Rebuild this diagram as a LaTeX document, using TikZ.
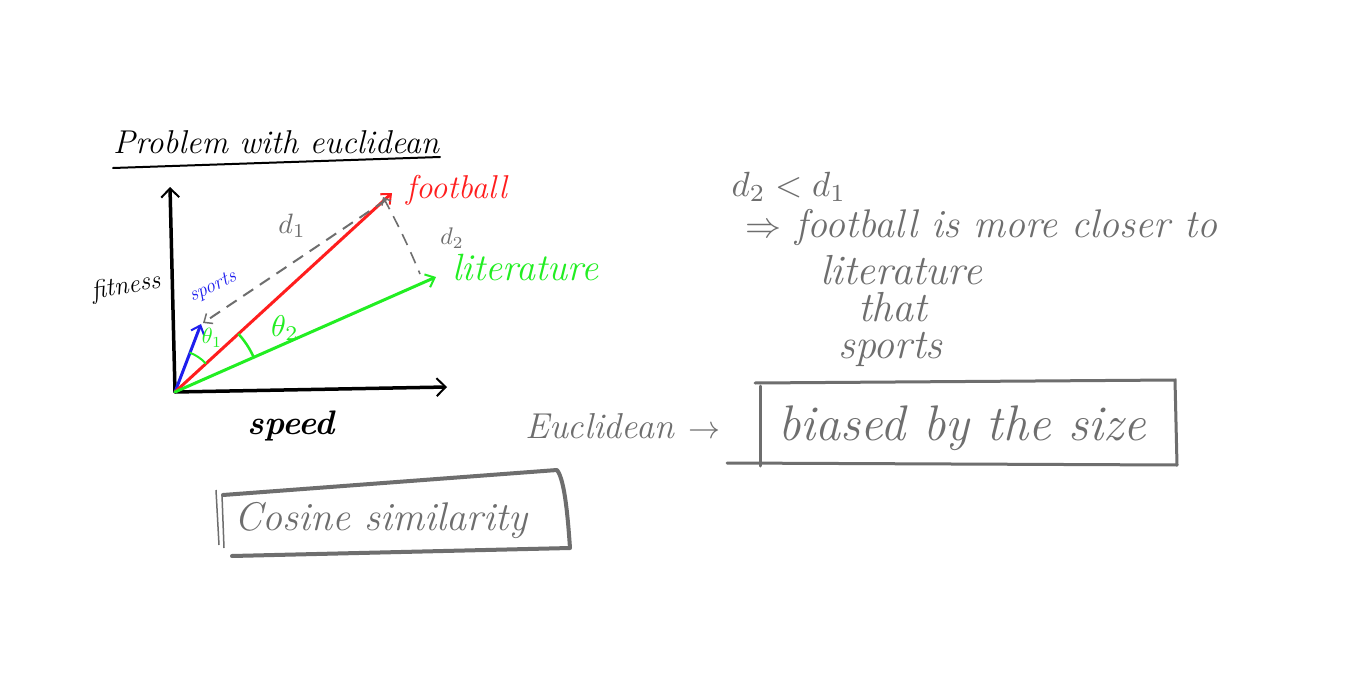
\documentclass[tikz,border=0pt]{standalone}
\usepackage{amsmath}
\usepackage{graphicx}
\usetikzlibrary{arrows.meta}
\definecolor{pen}{HTML}{6E6E6E}
\definecolor{fred}{HTML}{FF1E1E}
\definecolor{fgreen}{HTML}{22EE22}
\definecolor{fblue}{HTML}{1E1EEE}
\newcommand{\hsz}[1]{\fontsize{#1}{#1}\selectfont}
\newcommand{\scm}[2]{\scalebox{#1}{\normalsize$#2$}}
\begin{document}
\begin{tikzpicture}[x=1pt,y=-1pt,
  hand/.style={font=\itshape, inner sep=0pt},
  axis/.style={line width=3.5pt, black, line cap=round, -{Straight Barb[length=9pt,width=18pt,line width=2pt]}},
  vec/.style={line width=3pt, line cap=round, -{Straight Barb[length=8pt,width=14pt,line width=2pt]}},
  dist/.style={pen, line width=2pt, dash pattern=on 12pt off 8pt},
  penline/.style={pen, line width=3pt, line cap=round}]
\useasboundingbox[fill=white] (0,0) rectangle (1366,685);

% title
\node[hand, anchor=base west] (title) at (113,153) {\hsz{33}Problem with euclidean};
\coordinate (u1) at (113,168); \coordinate (u2) at (440,157);
\draw[line width=2pt, line cap=round] (u1) -- (u2);

% axes
\coordinate (O) at (175,392);
\coordinate (Y) at (170,187);
\coordinate (X) at (447,387);
\draw[axis] (O) -- (Y);
\draw[axis] (O) -- (X);
\node[hand, rotate=10] (fit) at (126,287) {\hsz{26}fitness};
\node[hand, font=\bfseries\itshape] (spd) at (291,426) {\hsz{34}speed};

% vectors
\coordinate (S) at (201,324);
\coordinate (F) at (392,193);
\coordinate (L) at (436,277);
\draw[vec, fblue] (O) -- (S);
\draw[vec, fred] (O) -- (F);
\draw[vec, fgreen] (O) -- (L);
\node[hand, fblue, rotate=25] (ls) at (213,287) {\hsz{20}sports};
\node[hand, fred, anchor=west] (lf) at (406,190) {\hsz{33}football};
\node[hand, fgreen, anchor=west] (ll) at (452,268) {\hsz{38}literature};

% distances
\coordinate (d1s) at (386,200);
\coordinate (d1e) at (203,323);
\draw[dist, -{Straight Barb[length=7pt,width=12pt,line width=1.5pt]}] (d1s) -- (d1e);
\node[pen] (ld1) at (292,226) {\scm{2.8}{d_1}};
\coordinate (d2s) at (383,197);
\coordinate (d2e) at (420,274);
\draw[dist, line width=1.6pt, {Straight Barb[length=6pt,width=10pt,line width=1.4pt]}-] (d2s) .. controls (400,228) and (410,250) .. (d2e);
\node[pen] (ld2) at (452,238) {\scm{2.4}{d_2}};

% angles
\draw[fgreen, line width=2pt] (O) ++(-42.5:42) arc[start angle=-42.5, end angle=-69.5, radius=42];
\draw[fgreen, line width=2.5pt] (O) ++(-24:86) arc[start angle=-24, end angle=-42.5, radius=86];
\node[fgreen] (t1) at (212,338) {\scm{2.2}{\theta_1}};
\node[fgreen] (t2) at (285,328) {\scm{3}{\theta_2}};

% right notes
\node[pen, anchor=base west] (n0) at (728,196) {\scm{3.5}{d_2 < d_1}};
\node[pen, hand, anchor=base west] (n1) at (745,237) {\scm{3.6}{\Rightarrow}\hsz{40} football is more closer to};
\node[pen, hand, anchor=base west] (n2) at (820,284) {\hsz{42}literature};
\node[pen, hand, anchor=base west] (n3) at (858,321) {\hsz{42}that};
\node[pen, hand, anchor=base west] (n4) at (838,358) {\hsz{42}sports};

% euclidean box
\node[pen, hand, anchor=base west] (eu) at (525,438) {\hsz{36}Euclidean\hspace{14pt}\scm{3.2}{\rightarrow}};
\node[pen, hand, anchor=base west] (bi) at (778,440) {\hsz{50}biased by the size};
\coordinate (e1) at (755,383); \coordinate (e2) at (1175,380);
\coordinate (e3) at (1177,465); \coordinate (e4) at (727,463);
\coordinate (e5) at (760,386); \coordinate (e6) at (760,466);
\draw[penline] (e1) -- (e2) -- (e3);
\draw[penline] (e4) -- (e3);
\draw[penline] (e5) -- (e6);

% cosine box
\node[pen, hand] (cs) at (381,520) {\hsz{40}Cosine similarity};
\coordinate (c1) at (223,495); \coordinate (c2) at (557,470);
\coordinate (c3) at (570,548); \coordinate (c4) at (232,556);
\coordinate (c5) at (216,490); \coordinate (c6) at (219,545);
\coordinate (c7) at (222,495); \coordinate (c8) at (224,548);
\draw[pen, line width=4pt, line join=round, line cap=round] (c1) -- (c2) .. controls (565,480) and (568,520) .. (c3) -- (c4);
\draw[pen, line width=1.5pt] (c5) -- (c6);
\draw[pen, line width=1.5pt] (c7) -- (c8);
\end{tikzpicture}
\end{document}
